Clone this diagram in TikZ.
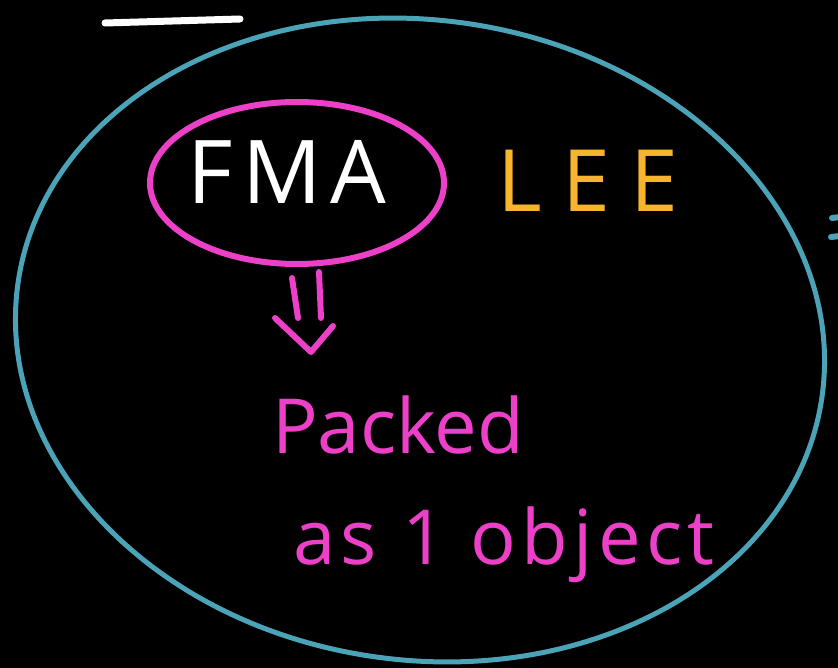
\documentclass[tikz,border=0pt]{standalone}
\usepackage{fontspec}
\setmainfont{Open Sans}
\usetikzlibrary{shapes.geometric}
\definecolor{teal2}{HTML}{4AA3B6}
\definecolor{mag}{HTML}{EC40C8}
\definecolor{gold}{HTML}{F6B52C}
\begin{document}
\begin{tikzpicture}[x=1pt,y=-1pt,line cap=round,line join=round,
  pen/.style={line width=6pt},
  hand/.style={font=\fontsize{#1}{#1}\selectfont, inner sep=0pt}]
\fill[black] (0,0) rectangle (838,668);
\useasboundingbox (0,0) rectangle (838,668);
% top white bar
\draw[white,line width=7pt] (105,23) -- (240,19);
% large teal ellipse
\draw[teal2,line width=5pt] (420,340) ellipse[x radius=406,y radius=320,rotate=-8];
% right edge = marks
\draw[teal2,pen] (832,218) -- (840,217);
\draw[teal2,pen] (831,237) -- (840,236);
% magenta ellipse around FMA
\node[draw=mag,line width=6pt,ellipse,minimum width=294,minimum height=162,inner sep=0pt] (circ) at (297,183) {};
\node[white,hand=88,font=\fontsize{88}{88}\selectfont\addfontfeature{LetterSpace=10}] (fma) at (287,172) {FMA};
\node[gold,hand=86,font=\fontsize{86}{86}\selectfont\addfontfeature{LetterSpace=24}] (lee) at (588,181) {LEE};
% double arrow
\coordinate (a1) at (292,278);
\coordinate (a2) at (319,272);
\draw[mag,pen] (a1) -- (298,318);
\draw[mag,pen] (a2) -- (321,318);
\draw[mag,pen] (275,318) -- (311,352) -- (333,326);
\node[mag,hand=76,anchor=west] (packed) at (272,425) {Packed};
\node[mag,font=\fontsize{76}{76}\selectfont\addfontfeature{LetterSpace=7},inner sep=0pt,anchor=west] (obj) at (293,545) {as 1 object};
\end{tikzpicture}
\end{document}
